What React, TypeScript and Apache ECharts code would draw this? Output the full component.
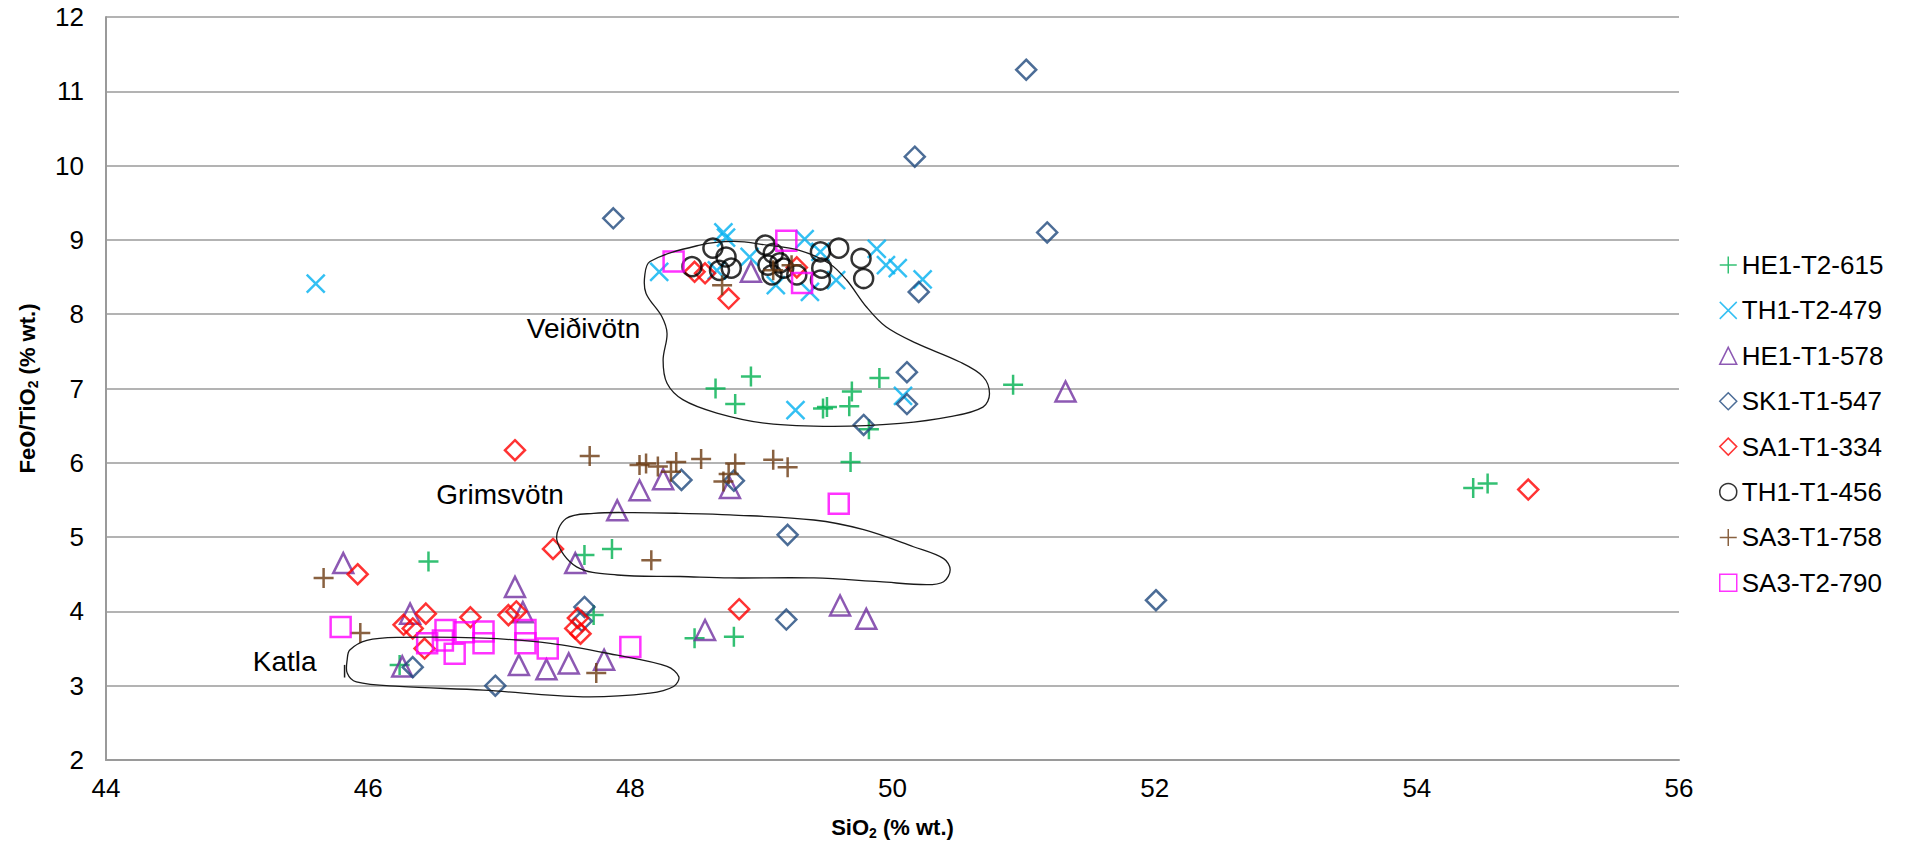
import React, { useEffect, useRef } from "react";
import * as echarts from "echarts";

const FONT = "'Liberation Sans', Arial, sans-serif";

const seriesNames = [
  "HE1-T2-615",
  "TH1-T2-479",
  "HE1-T1-578",
  "SK1-T1-547",
  "SA1-T1-334",
  "TH1-T1-456",
  "SA3-T1-758",
  "SA3-T2-790",
];

const he1T2_615: number[][] = [
  [46.24, 3.28], [46.46, 4.67], [47.65, 4.76], [47.86, 4.84], [47.72, 3.95],
  [48.49, 3.64], [48.79, 3.66], [49.68, 6.01], [49.82, 6.45], [48.65, 7.0],
  [48.92, 7.16], [48.8, 6.79], [49.47, 6.73], [49.5, 6.75], [49.69, 6.96],
  [49.67, 6.76], [49.9, 7.14], [50.92, 7.05], [54.43, 5.66], [54.54, 5.72],
];
const th1T2_479: number[][] = [
  [45.6, 8.41], [48.22, 8.57], [48.71, 9.1], [48.73, 9.03], [48.66, 8.59],
  [48.91, 8.77], [49.11, 8.39], [49.33, 9.01], [49.37, 8.3], [49.45, 8.84],
  [49.57, 8.46], [49.88, 8.88], [49.95, 8.66], [50.04, 8.62], [50.23, 8.47],
  [49.26, 6.71], [50.08, 6.9],
];
const he1T1_578: number[][] = [
  [45.81, 4.65], [46.32, 3.97], [47.12, 4.33], [47.18, 3.99], [47.58, 4.65],
  [46.26, 3.26], [47.15, 3.28], [47.36, 3.22], [47.53, 3.3], [47.8, 3.35],
  [48.07, 5.63], [47.9, 5.36], [48.25, 5.78], [48.76, 5.66], [48.57, 3.75],
  [49.6, 4.08], [49.8, 3.9], [48.92, 8.57], [51.32, 6.96],
];
const sk1T1_547: number[][] = [
  [47.87, 9.29], [51.02, 11.29], [51.18, 9.1], [50.17, 10.12], [50.2, 8.3],
  [50.11, 7.22], [50.11, 6.79], [49.78, 6.51], [48.39, 5.77], [48.79, 5.76],
  [49.2, 5.03], [49.19, 3.89], [46.34, 3.25], [46.97, 3.0], [47.65, 4.06],
  [47.63, 3.87], [52.01, 4.15],
];
const sa1T1_334: number[][] = [
  [47.12, 6.17], [47.41, 4.84], [45.92, 4.5], [46.27, 3.82], [46.34, 3.77],
  [46.44, 3.97], [46.43, 3.5], [46.78, 3.92], [47.07, 3.95], [47.13, 4.0],
  [47.6, 3.91], [47.58, 3.77], [47.62, 3.7], [48.83, 4.03], [48.49, 8.57],
  [48.57, 8.55], [48.75, 8.21], [49.27, 8.63], [54.85, 5.64],
];
const th1T1_456: number[][] = [
  [48.47, 8.64], [48.63, 8.89], [48.73, 8.77], [48.68, 8.59], [48.77, 8.62],
  [49.03, 8.93], [49.09, 8.82], [49.05, 8.66], [49.08, 8.53], [49.14, 8.69],
  [49.17, 8.62], [49.27, 8.53], [49.45, 8.84], [49.59, 8.89], [49.46, 8.62],
  [49.45, 8.46], [49.76, 8.75], [49.78, 8.48],
];
const sa3T1_758: number[][] = [
  [48.7, 8.39], [49.09, 8.59], [49.23, 8.66], [45.66, 4.45], [45.94, 3.71],
  [47.74, 3.17], [48.16, 4.69], [47.69, 6.09], [48.07, 5.97], [48.12, 5.99],
  [48.21, 5.95], [48.35, 6.01], [48.31, 5.88], [48.54, 6.05], [48.8, 5.99],
  [48.71, 5.75], [48.75, 5.85], [49.09, 6.04], [49.2, 5.94],
];
const sa3T2_790: number[][] = [
  [48.33, 8.71], [49.19, 8.99], [49.31, 8.42], [49.59, 5.45], [45.79, 3.79],
  [46.45, 3.57], [46.59, 3.75], [46.57, 3.61], [46.66, 3.43], [46.73, 3.72],
  [46.88, 3.73], [46.88, 3.57], [47.2, 3.75], [47.2, 3.57], [47.37, 3.5],
  [48.0, 3.52],
];

const seriesData = [he1T2_615, th1T2_479, he1T1_578, sk1T1_547, sa1T1_334, th1T1_456, sa3T1_758, sa3T2_790];
const seriesColors = ["#00B050", "#00B0F0", "#7030A0", "#1F497D", "#FF0000", "#000000", "#6B3A10", "#FF00FF"];
const PLUS = "path://M0,-10L0,10M-10,0L10,0";
const CROSS = "path://M-10,-10L10,10M-10,10L10,-10";
const seriesSymbols = [PLUS, CROSS, "triangle", "diamond", "diamond", "circle", PLUS, "rect"];
const seriesSizes = [20, 18, 20, 20, 20, 19, 20, 20];

// Hand-drawn region outlines (data units)
const outlineVeidivotn: number[][] = [
  [48.15, 8.71], [48.53, 8.93], [48.79, 8.98], [49.04, 8.93], [49.29, 8.86],
  [49.52, 8.68], [49.65, 8.46], [49.8, 8.1], [49.95, 7.83], [50.18, 7.61],
  [50.51, 7.36], [50.69, 7.16], [50.74, 6.93], [50.69, 6.75], [50.44, 6.62],
  [50.06, 6.53], [49.55, 6.49], [49.04, 6.53], [48.66, 6.67], [48.4, 6.85],
  [48.28, 7.07], [48.25, 7.38], [48.28, 7.74], [48.24, 7.97], [48.12, 8.28],
  [48.11, 8.52],
];
const outlineGrimsvotn: number[][] = [
  [47.44, 4.96], [47.51, 5.25], [47.72, 5.32], [48.02, 5.33], [48.38, 5.32],
  [48.76, 5.3], [49.4, 5.23], [49.78, 5.1], [50.16, 4.87], [50.39, 4.71],
  [50.44, 4.56], [50.39, 4.4], [50.26, 4.36], [49.9, 4.4], [49.4, 4.45],
  [48.76, 4.45], [48.38, 4.47], [47.9, 4.49], [47.59, 4.6],
];
const outlineKatla: number[][] = [
  [45.86, 3.48], [45.99, 3.61], [46.24, 3.65], [46.88, 3.64], [47.39, 3.57],
  [47.9, 3.41], [48.28, 3.26], [48.37, 3.12], [48.33, 2.99], [48.15, 2.9],
  [47.64, 2.85], [46.88, 2.94], [46.24, 2.99], [45.91, 3.05], [45.84, 3.17],
  [45.84, 3.35],
];
const katlaTick: number[][] = [[45.82, 3.28], [45.82, 3.11]];

const regionNames = ["Veiðivötn", "Grimsvötn", "Katla"];
const regionLabelPos: number[][] = [[47.21, 7.81], [46.52, 5.57], [45.12, 3.32]];
const outlines = [outlineVeidivotn, outlineGrimsvotn, outlineKatla];

const xTicks = { min: 44, max: 56, interval: 2 };
const yTicks = { min: 2, max: 12, interval: 1 };

export default function App() {
  const ref = useRef<HTMLDivElement>(null);
  useEffect(() => {
    const chart = echarts.init(ref.current!, null, { renderer: "svg" });
    const scatter = seriesNames.map((name, i) => ({
      name,
      type: "scatter",
      data: seriesData[i],
      symbol: seriesSymbols[i],
      symbolSize: seriesSizes[i],
      itemStyle: { color: "rgba(0,0,0,0)", borderColor: seriesColors[i], borderWidth: 2.5 },
      emphasis: { disabled: true },
      z: 2 + i,
    }));
    const outlineSeries = {
      name: "outlines",
      type: "custom",
      silent: true,
      z: 20,
      data: outlines.map((o, i) => [o[0][0], o[0][1], i]),
      renderItem: (params: any, api: any) => {
        const idx = api.value(2);
        const pts = outlines[idx].map((p) => api.coord(p));
        const children: any[] = [
          {
            type: "polygon",
            shape: { points: pts, smooth: 0.35 },
            style: { fill: "none", stroke: "#1a1a1a", lineWidth: 1.3 },
          },
          {
            type: "text",
            x: api.coord(regionLabelPos[idx])[0],
            y: api.coord(regionLabelPos[idx])[1],
            style: {
              text: regionNames[idx],
              fontSize: 28,
              fontFamily: FONT,
              fill: "#000",
              align: "left",
              verticalAlign: "middle",
            },
          },
        ];
        if (idx === 2) {
          children.push({
            type: "polyline",
            shape: { points: katlaTick.map((p) => api.coord(p)) },
            style: { fill: "none", stroke: "#1a1a1a", lineWidth: 1.5 },
          });
        }
        return { type: "group", children };
      },
    };
    chart.setOption({
      animation: false,
      backgroundColor: "#ffffff",
      textStyle: { fontFamily: FONT },
      grid: { left: 106, top: 17, right: 236, bottom: 87, containLabel: false },
      legend: {
        data: seriesNames,
        orient: "vertical",
        left: 1719,
        top: 250,
        padding: 0,
        itemGap: 15.4,
        itemWidth: 17,
        itemHeight: 17,
        itemStyle: { borderWidth: 1.5 },
        textStyle: { fontSize: 26, lineHeight: 30, color: "#000", fontFamily: FONT },
        selectedMode: false,
      },
      xAxis: {
        type: "value",
        min: xTicks.min,
        max: xTicks.max,
        interval: xTicks.interval,
        name: "SiO{sub|2} (% wt.)",
        nameLocation: "middle",
        nameGap: 54,
        nameTextStyle: {
          fontSize: 22,
          fontWeight: "bold",
          color: "#000",
          fontFamily: FONT,
          rich: { sub: { fontSize: 14, fontWeight: "bold", padding: [12, 0, 0, 0], fontFamily: FONT } },
        },
        axisLine: { show: true, onZero: false, lineStyle: { color: "#9a9a9a", width: 2 } },
        axisTick: { show: false },
        splitLine: { show: false },
        axisLabel: { fontSize: 26, color: "#000", margin: 15, fontFamily: FONT },
      },
      yAxis: {
        type: "value",
        min: yTicks.min,
        max: yTicks.max,
        interval: yTicks.interval,
        name: "FeO/TiO{sub|2} (% wt.)",
        nameLocation: "middle",
        nameGap: 66,
        nameRotate: 90,
        nameTextStyle: {
          fontSize: 22,
          fontWeight: "bold",
          color: "#000",
          fontFamily: FONT,
          rich: { sub: { fontSize: 14, fontWeight: "bold", padding: [12, 0, 0, 0], fontFamily: FONT } },
        },
        axisLine: { show: true, onZero: false, lineStyle: { color: "#9a9a9a", width: 2 } },
        axisTick: { show: false },
        splitLine: { show: true, lineStyle: { color: "#9a9a9a", width: 1.5 } },
        axisLabel: { fontSize: 26, color: "#000", margin: 22, fontFamily: FONT },
      },
      series: [...scatter, outlineSeries],
    });
    return () => chart.dispose();
  }, []);
  return (
    <div
      ref={ref}
      style={{ position: "fixed", left: 0, top: 0, width: 1915, height: 847, background: "#fff" }}
    />
  );
}
